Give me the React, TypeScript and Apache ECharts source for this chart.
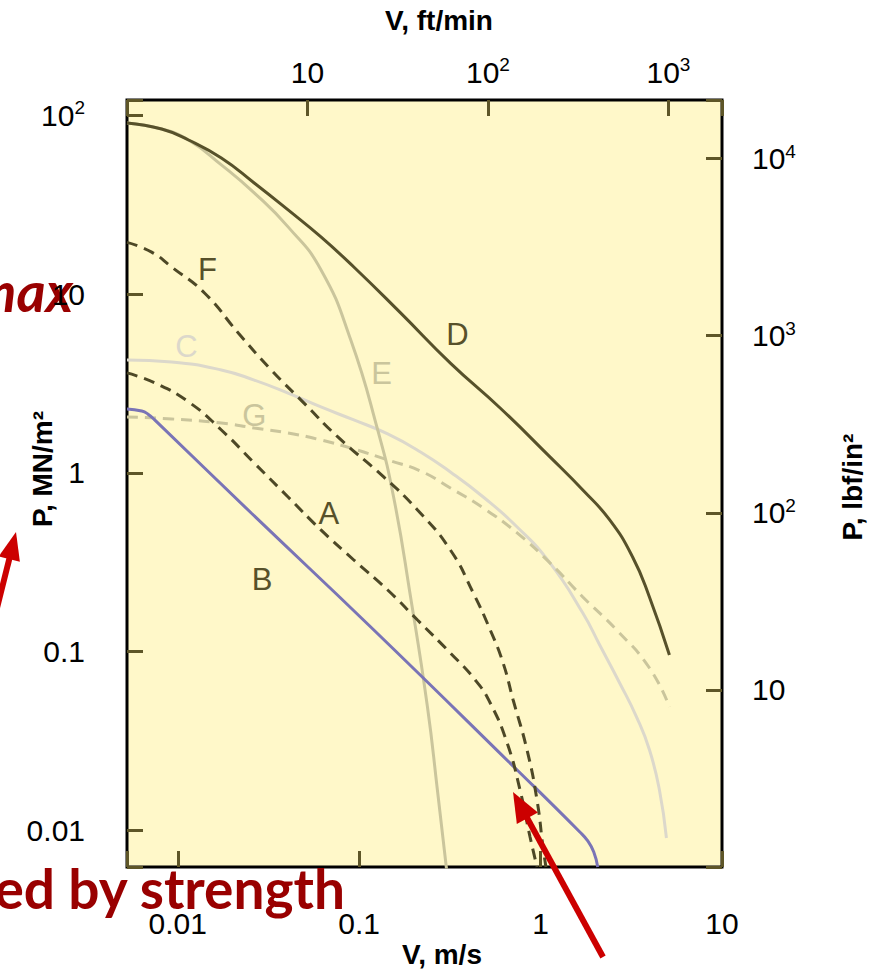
import React, { useEffect, useRef } from 'react';
import * as echarts from 'echarts';

// ---- Data (V in m/s, P in MN/m^2) ----
const vD = [0.00525, 0.00815, 0.01146, 0.01739, 0.02639, 0.04056, 0.06154, 0.09341, 0.1691, 0.3182, 0.5984, 1.126, 1.709, 2.404, 3.215, 3.985, 5.131];
const pD = [90.8, 84.0, 72.9, 57.8, 41.9, 29.6, 20.9, 14.2, 7.86, 4.12, 2.31, 1.23, 0.803, 0.546, 0.339, 0.202, 0.0959];

const vE = [0.00525, 0.00815, 0.01146, 0.01739, 0.02639, 0.04056, 0.06154, 0.0899, 0.1265, 0.1548, 0.192, 0.2379, 0.27, 0.3102];
const pE = [90.8, 84.0, 72.9, 52.9, 36.9, 23.8, 13.7, 5.54, 1.74, 0.734, 0.2024, 0.0491, 0.0168, 0.00496];

const vF = [0.00525, 0.00718, 0.00925, 0.01404, 0.02156, 0.03272, 0.04966, 0.07628, 0.1365, 0.2097, 0.3182, 0.4256, 0.5278, 0.6215, 0.706, 0.842, 0.9554, 1.0308, 1.0705];
const pF = [19.5, 17.2, 14.2, 10.16, 6.07, 3.77, 2.46, 1.59, 0.95, 0.621, 0.371, 0.2132, 0.1323, 0.0865, 0.0537, 0.0282, 0.0148, 0.00809, 0.00625];

const vA = [0.00525, 0.00746, 0.01146, 0.01739, 0.02639, 0.04056, 0.06154, 0.09341, 0.1436, 0.2097, 0.3182, 0.4365, 0.5278, 0.6538, 0.7709, 0.8748, 0.9554];
const pA = [3.63, 3.19, 2.5, 1.74, 1.137, 0.734, 0.48, 0.326, 0.2215, 0.1505, 0.0984, 0.0695, 0.0517, 0.0309, 0.0168, 0.0092, 0.00625];

const vB = [0.00525, 0.00633, 0.00683, 0.00746, 0.02541, 0.1158, 0.7425, 1.6456, 1.8202, 1.964, 2.065];
const pB = [2.28, 2.22, 2.14, 1.98, 0.597, 0.1376, 0.0218, 0.00981, 0.00874, 0.00758, 0.00625];

const vC = [0.00525, 0.00925, 0.01739, 0.02639, 0.04056, 0.06154, 0.09341, 0.1436, 0.2178, 0.3182, 0.483, 0.7425, 1.126, 1.709, 2.118, 2.728, 3.382, 3.985, 4.522, 4.94];
const pC = [4.29, 4.18, 3.77, 3.31, 2.8, 2.34, 1.98, 1.653, 1.311, 1.013, 0.734, 0.499, 0.314, 0.1647, 0.1091, 0.0669, 0.0431, 0.0282, 0.0168, 0.00908];

const vG = [0.00525, 0.00925, 0.01739, 0.02639, 0.04056, 0.06154, 0.09341, 0.1436, 0.2178, 0.3182, 0.483, 0.7425, 1.126, 1.709, 2.627, 3.985, 5.131];
const pG = [2.057, 2.005, 1.904, 1.785, 1.674, 1.53, 1.362, 1.182, 1.026, 0.824, 0.637, 0.462, 0.314, 0.2024, 0.1323, 0.0811, 0.0491];

const labelNames = ['F', 'C', 'E', 'G', 'A', 'B', 'D'];
const labelV = [0.01458, 0.01117, 0.133, 0.02639, 0.0681, 0.0292, 0.3476];
const labelP = [13.67, 5.07, 3.58, 2.11, 0.59, 0.252, 5.92];

// tick labels: exponent -> base text + superscript
const bottomExp = [-2, -1, 0, 1];
const bottomBase = ['0.01', '0.1', '1', '10'];
const bottomSup = ['', '', '', ''];
const topExp = [1, 2, 3];
const topBase = ['10', '10', '10'];
const topSup = ['', '2', '3'];
const leftExp = [-2, -1, 0, 1, 2];
const leftBase = ['0.01', '0.1', '1', '10', '10'];
const leftSup = ['', '', '', '', '2'];
const rightExp = [1, 2, 3, 4];
const rightBase = ['10', '10', '10', '10'];
const rightSup = ['', '2', '3', '4'];

const DARK = '#57512a';
const DASHDARK = '#4d4826';
const TAN = '#cac59c';
const LGREY = '#dcd8cb';
const BLUE = '#7a74b6';
const TICK = '#5e5628';
const RED = '#cc0000';
const DARKRED = '#990000';
const FONT = '"Liberation Sans", Arial, sans-serif';

const makeFmt = (exps: number[], base: string[], sup: string[]) => (val: number) => {
  const e = Math.log10(val);
  const r = Math.round(e);
  if (Math.abs(e - r) > 1e-6) return '';
  const i = exps.indexOf(r);
  if (i < 0) return '';
  return '{b|' + base[i] + '}' + (sup[i] ? '{s|' + sup[i] + '}' : '');
};

const rich = {
  b: { fontSize: 30, fontFamily: FONT, color: '#000', lineHeight: 34 },
  s: { fontSize: 19, fontFamily: FONT, color: '#000', lineHeight: 20, verticalAlign: 'top' },
};

const axisCommon = {
  type: 'log',
  logBase: 10,
  axisLine: { show: false },
  splitLine: { show: false },
  minorTick: { show: false },
  axisTick: { show: true, inside: true, length: 16, lineStyle: { color: TICK, width: 3 } },
};

export default function App() {
  const ref = useRef<HTMLDivElement>(null);
  useEffect(() => {
    document.body.style.margin = '0';
    const chart = echarts.init(ref.current!, null, { renderer: 'svg' });
    const curves = [
      { name: 'C', v: vC, p: pC, color: LGREY, width: 3, dash: null },
      { name: 'G', v: vG, p: pG, color: TAN, width: 3, dash: [11, 7] },
      { name: 'E', v: vE, p: pE, color: TAN, width: 3, dash: null },
      { name: 'B', v: vB, p: pB, color: BLUE, width: 3, dash: null },
      { name: 'A', v: vA, p: pA, color: DASHDARK, width: 3, dash: [11, 7] },
      { name: 'F', v: vF, p: pF, color: DASHDARK, width: 3, dash: [11, 7] },
      { name: 'D', v: vD, p: pD, color: DARK, width: 3, dash: null },
    ];
    const labelColors: Record<string, string> = { F: DARK, C: LGREY, E: TAN, G: TAN, A: DARK, B: DARK, D: DARK };
    const series: any[] = curves.map((c) => ({
      type: 'line',
      name: c.name,
      xAxisIndex: 0,
      yAxisIndex: 0,
      data: c.v.map((x, i) => [x, c.p[i]]),
      showSymbol: false,
      smooth: 0.5,
      clip: true,
      lineStyle: { color: c.color, width: c.width, type: c.dash ? c.dash : 'solid' },
      silent: true,
    }));
    series.push({
      type: 'scatter',
      xAxisIndex: 0,
      yAxisIndex: 0,
      symbolSize: 1,
      itemStyle: { color: 'rgba(0,0,0,0)', opacity: 1 },
      silent: true,
      data: labelNames.map((n, i) => ({
        name: n,
        value: [labelV[i], labelP[i]],
        label: { color: labelColors[n] },
      })),
      label: {
        show: true,
        position: 'inside',
        formatter: (p: any) => p.name,
        fontSize: 31,
        fontFamily: FONT,
        opacity: 1,
        textBorderWidth: 0,
        textShadowBlur: 0,
      },
      z: 10,
    });

    const arrow = (x1: number, y1: number, tx: number, ty: number, headLen: number, headHalf: number) => {
      const dx = tx - x1, dy = ty - y1;
      const L = Math.hypot(dx, dy);
      const ux = dx / L, uy = dy / L;
      const bx = tx - ux * headLen, by = ty - uy * headLen;
      const px = -uy, py = ux;
      return [
        { type: 'line', shape: { x1, y1, x2: bx + ux * 2, y2: by + uy * 2 }, style: { stroke: RED, lineWidth: 6 }, z: 50 },
        {
          type: 'polygon',
          shape: { points: [[tx, ty], [bx + px * headHalf, by + py * headHalf], [bx - px * headHalf, by - py * headHalf]] },
          style: { fill: RED },
          z: 50,
        },
      ];
    };

    const option: any = {
      animation: false,
      grid: {
        left: 127,
        top: 100,
        right: 159,
        bottom: 104,
        show: true,
        backgroundColor: '#fff8c9',
        borderColor: '#000',
        borderWidth: 3,
      },
      xAxis: [
        {
          ...axisCommon,
          position: 'bottom',
          min: 0.00525,
          max: 10,
          axisLabel: { margin: 39, formatter: makeFmt(bottomExp, bottomBase, bottomSup), rich, showMaxLabel: true, showMinLabel: true },
        },
        {
          ...axisCommon,
          position: 'top',
          min: 1,
          max: 1980,
          axisLabel: { margin: 11, formatter: makeFmt(topExp, topBase, topSup), rich, showMaxLabel: true, showMinLabel: true },
        },
      ],
      yAxis: [
        {
          ...axisCommon,
          position: 'left',
          min: 0.00625,
          max: 122,
          axisLabel: { margin: 42, formatter: makeFmt(leftExp, leftBase, leftSup), rich, showMaxLabel: true, showMinLabel: true },
        },
        {
          ...axisCommon,
          position: 'right',
          min: 1,
          max: 21400,
          axisLabel: { margin: 30, formatter: makeFmt(rightExp, rightBase, rightSup), rich, showMaxLabel: true, showMinLabel: true },
        },
      ],
      series,
      graphic: [
        {
          type: 'text', x: 439, y: 20,
          style: { text: 'V, ft/min', font: 'bold 28px ' + FONT, fill: '#000', align: 'center', verticalAlign: 'middle' },
        },
        {
          type: 'text', x: 442, y: 954,
          style: { text: 'V, m/s', font: 'bold 28px ' + FONT, fill: '#000', align: 'center', verticalAlign: 'middle' },
        },
        {
          type: 'text', x: 42, y: 469, rotation: Math.PI / 2,
          style: { text: 'P, MN/m²', font: 'bold 28px ' + FONT, fill: '#000', align: 'center', verticalAlign: 'middle' },
        },
        {
          type: 'text', x: 852, y: 487, rotation: Math.PI / 2,
          style: { text: 'P, lbf/in²', font: 'bold 28px ' + FONT, fill: '#000', align: 'center', verticalAlign: 'middle' },
        },
        {
          type: 'text', x: 73, y: 290, z: -1,
          style: { text: 'max', font: 'italic bold 56px Lato, sans-serif', fill: DARKRED, align: 'right', verticalAlign: 'middle' },
        },
        {
          type: 'text', x: 345, y: 888, z: 40,
          style: { text: 'ed by strength', font: 'bold 55px Lato, sans-serif', fill: DARKRED, align: 'right', verticalAlign: 'middle' },
        },
        ...arrow(-4, 612, 16, 532, 28, 11),
        ...arrow(603, 957, 513, 792, 30, 12),
      ],
    };
    chart.setOption(option);
    return () => chart.dispose();
  }, []);
  return <div ref={ref} style={{ width: 881, height: 971 }} />;
}
